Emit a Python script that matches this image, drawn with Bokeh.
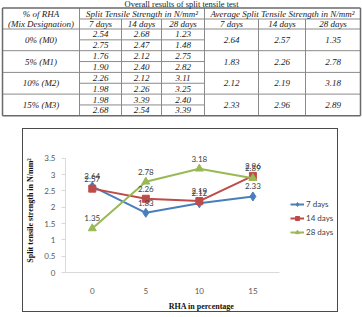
from bokeh.plotting import figure
from bokeh.models import (ColumnDataSource, Range1d, Legend, LegendItem,
                          LabelSet, CustomJSTickFormatter, Spacer)
from bokeh.layouts import column, row
from bokeh.embed import file_html
from bokeh.resources import INLINE
from bokeh.core.properties import value

# ---------------- data ----------------
table_title = "Overall results of split tensile test"
mixes = ["0% (M0)", "5% (M1)", "10% (M2)", "15% (M3)"]
ages = ["7 days", "14 days", "28 days"]
trial1_7 = [2.54, 1.76, 2.26, 1.98]
trial2_7 = [2.75, 1.90, 1.98, 2.68]
trial1_14 = [2.68, 2.12, 2.12, 3.39]
trial2_14 = [2.47, 2.40, 2.26, 2.54]
trial1_28 = [1.23, 2.75, 3.11, 2.40]
trial2_28 = [1.48, 2.82, 3.25, 3.39]
avg_7 = [2.64, 1.83, 2.12, 2.33]
avg_14 = [2.57, 2.26, 2.19, 2.96]
avg_28 = [1.35, 2.78, 3.18, 2.89]
rha = [0, 5, 10, 15]

# ---------------- table ----------------
SERIF = value("Liberation Serif")
XB = [2, 79, 121, 161, 204, 258, 305, 360]
Y_TOP, Y_MID, Y_HEAD, RH = 7.5, 18.5, 28.5, 10.85
Y_BOT = Y_HEAD + 8 * RH

tf = figure(width=362, height=122, x_range=Range1d(0, 362), y_range=Range1d(122, 0),
            output_backend="svg", toolbar_location=None, min_border=0)
tf.axis.visible = False
tf.grid.visible = False
tf.outline_line_color = None

hx0, hx1, hy0, hy1 = [], [], [], []
def seg(x0, y0, x1, y1):
    hx0.append(x0); hy0.append(y0); hx1.append(x1); hy1.append(y1)

seg(XB[1], Y_MID, XB[7], Y_MID)
seg(XB[0], Y_HEAD, XB[7], Y_HEAD)
for k in range(1, 4):
    seg(XB[0], Y_HEAD + 2 * k * RH, XB[7], Y_HEAD + 2 * k * RH)
for k in range(4):
    seg(XB[1], Y_HEAD + (2 * k + 1) * RH, XB[4], Y_HEAD + (2 * k + 1) * RH)
seg(XB[1], Y_TOP, XB[1], Y_BOT)
seg(XB[4], Y_TOP, XB[4], Y_BOT)
for i in (2, 3, 5, 6):
    seg(XB[i], Y_MID, XB[i], Y_BOT)
tf.segment(hx0, hy0, hx1, hy1, line_color="#8a8a8a", line_width=1)
tf.segment([XB[0], XB[0], XB[0], XB[7]], [Y_TOP, Y_BOT, Y_TOP, Y_TOP],
           [XB[7], XB[7], XB[0], XB[7]], [Y_TOP, Y_BOT, Y_BOT, Y_BOT],
           line_color="#6a6a6a", line_width=1.5)

tx, ty, tt = [], [], []
def put(x, y, s):
    tx.append(x); ty.append(y); tt.append(s)

cx = [(XB[i] + XB[i + 1]) / 2 for i in range(7)]
put(cx[0], 13.2, "% of RHA")
put(cx[0], 23.7, "(Mix Designation)")
put((XB[1] + XB[4]) / 2, 13.2, "Split Tensile Strength in N/mm²")
put((XB[4] + XB[7]) / 2, 13.2, "Average Split Tensile Strength in N/mm²")
for j, a in enumerate(ages):
    put(cx[1 + j], 23.7, a)
    put(cx[4 + j], 23.7, a)
trials = [(trial1_7, trial2_7), (trial1_14, trial2_14), (trial1_28, trial2_28)]
avgs = [avg_7, avg_14, avg_28]
for k, m in enumerate(mixes):
    ymid = Y_HEAD + (2 * k + 1) * RH
    put(cx[0], ymid, m)
    for j in range(3):
        put(cx[1 + j], ymid - RH / 2, "%.2f" % trials[j][0][k])
        put(cx[1 + j], ymid + RH / 2, "%.2f" % trials[j][1][k])
        put(cx[4 + j], ymid, "%.2f" % avgs[j][k])
tf.text(tx, ty, text=tt, text_font=SERIF, text_font_style="italic",
        text_font_size="9px", text_align="center", text_baseline="middle",
        text_color="#222222")
tf.text([181], [3.5], text=[table_title], text_font=SERIF, text_font_size="8.5px",
        text_align="center", text_baseline="middle", text_color="#222222")

# ---------------- chart ----------------
SANS = "Lato"
cf = figure(width=316, height=184, x_range=Range1d(-2.5, 22.9), y_range=Range1d(0, 3.8),
            output_backend="svg", toolbar_location=None,
            min_border_left=40, min_border_right=2, min_border_top=19, min_border_bottom=36)
cf.styles = {"border": "1.5px solid #4a4a4a"}
cf.grid.visible = False
cf.outline_line_color = None

cf.xaxis.ticker = rha
cf.xaxis.bounds = (-2.5, 17.5)
cf.yaxis.bounds = (0, 3.5)
cf.yaxis.ticker = [i * 0.5 for i in range(8)]
cf.yaxis.formatter = CustomJSTickFormatter(code="return tick.toString();")
for ax in (cf.xaxis[0], cf.yaxis[0]):
    ax.axis_line_color = "#d9d9d9"
    ax.major_label_text_color = "#595959"
    ax.major_label_text_font = SANS
    ax.major_label_text_font_size = "8px"
    ax.axis_label_text_font = "Liberation Serif"
    ax.axis_label_text_font_style = "bold"
    ax.axis_label_text_font_size = "8px"
    ax.axis_label_text_color = "#111111"
    ax.minor_tick_line_color = None
cf.xaxis.major_tick_line_color = None
cf.yaxis.major_tick_line_color = "#d9d9d9"
cf.yaxis.major_tick_out = 4
cf.yaxis.major_tick_in = 0
cf.xaxis.axis_label = "RHA in percentage"
cf.yaxis.axis_label = "Split tensile strength in N/mm²"
cf.xaxis.axis_label_standoff = 5
cf.yaxis.axis_label_standoff = 6
cf.xaxis.major_label_standoff = 9
cf.yaxis.major_label_standoff = 6

series = [("7 days", avg_7, "#4a7ebb", "diamond", 9),
          ("14 days", avg_14, "#be4b48", "square", 7),
          ("28 days", avg_28, "#98b954", "triangle", 8)]
items = []
for name, vals, col, mk, sz in series:
    src = ColumnDataSource(dict(x=rha, y=vals, lbl=["%.2f" % v for v in vals]))
    ln = cf.line("x", "y", source=src, line_color=col, line_width=2)
    sc = cf.scatter("x", "y", source=src, marker=mk, size=sz, fill_color=col, line_color=col)
    cf.add_layout(LabelSet(x="x", y="y", text="lbl", source=src, y_offset=10,
                           text_align="center", text_baseline="middle",
                           text_font=value(SANS), text_font_size="8px",
                           text_color="#404040"))
    items.append(LegendItem(label=name, renderers=[ln, sc]))

leg = Legend(items=items, location=(225, 35), border_line_color=None,
             background_fill_alpha=0,
             label_text_font=SANS, label_text_font_size="8px", label_text_color="#404040",
             glyph_width=14, glyph_height=10, label_standoff=2, spacing=4,
             padding=0, margin=0, label_height=10)
cf.add_layout(leg, "center")

layout = column(tf, Spacer(height=6), row(Spacer(width=22), cf))
open("out.html", "w").write(file_html(layout, INLINE))
